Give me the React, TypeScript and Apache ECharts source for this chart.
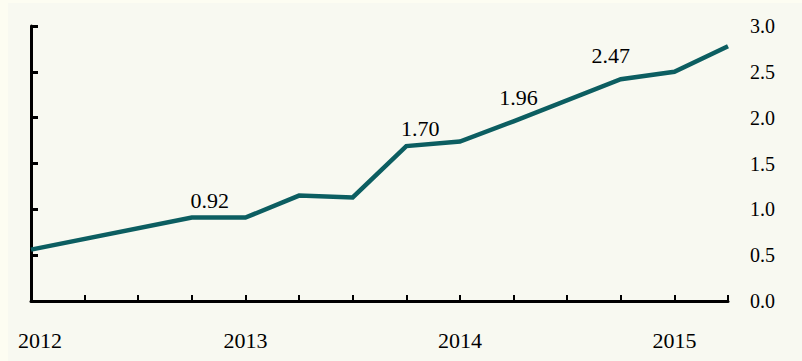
import React, { useEffect, useRef } from "react";
import * as echarts from "echarts";

const categories = [
  "2012Q1", "2012Q2", "2012Q3", "2012Q4",
  "2013Q1", "2013Q2", "2013Q3", "2013Q4",
  "2014Q1", "2014Q2", "2014Q3", "2014Q4",
  "2015Q1", "2015Q2",
];
const yearLabels: Record<string, string> = {
  "2012Q1": "2012",
  "2013Q1": "2013",
  "2014Q1": "2014",
  "2015Q1": "2015",
};
const values: (number | null)[] = [
  0.56, null, null, 0.91, 0.91, 1.15, 1.13, 1.69, 1.74, 1.96, null, 2.42, 2.5, 2.78,
];
const annotationIndex = [3, 7, 9, 11];
const annotationTexts = ["0.92", "1.70", "1.96", "2.47"];
const annotationOffsets: [number, number][] = [
  [18, -17],
  [14, -18],
  [5, -24],
  [-10, -24],
];

const FONT = "Liberation Serif";
const LINE_COLOR = "#0c5e61";

export default function App() {
  const ref = useRef<HTMLDivElement>(null);
  useEffect(() => {
    document.body.style.margin = "0";
    const chart = echarts.init(ref.current!, null, { renderer: "svg" });
    const data = values.map((v, i) => {
      const k = annotationIndex.indexOf(i);
      if (k < 0 || v === null) return v;
      return {
        value: v,
        label: {
          show: true,
          position: "inside",
          offset: annotationOffsets[k],
          formatter: annotationTexts[k],
          color: "#000",
          fontFamily: FONT,
          fontSize: 22,
        },
      };
    });
    chart.setOption({
      animation: false,
      backgroundColor: "#f8f9f1",
      textStyle: { fontFamily: FONT },
      grid: { left: 23, right: 74, top: 23, bottom: 60 },
      xAxis: {
        type: "category",
        data: categories.map((c, i) =>
          i === 0 ? { value: c, textStyle: { padding: [0, 0, 0, 18] } } : c
        ),
        boundaryGap: false,
        axisLine: { lineStyle: { color: "#000", width: 3 } },
        axisTick: { show: true, inside: true, length: 6, interval: 0, lineStyle: { color: "#000", width: 2 } },
        axisLabel: {
          interval: 0,
          margin: 28,
          color: "#000",
          fontFamily: FONT,
          fontSize: 22,
          formatter: (v: string) => yearLabels[v] || "",
        },
        splitLine: { show: false },
      },
      yAxis: [
        {
          type: "value",
          min: 0,
          max: 3,
          interval: 0.5,
          position: "left",
          axisLine: { show: true, lineStyle: { color: "#000", width: 3 } },
          axisTick: { show: true, inside: true, length: 7, lineStyle: { color: "#000", width: 3 } },
          axisLabel: { show: false },
          splitLine: { show: false },
        },
        {
          type: "value",
          min: 0,
          max: 3,
          interval: 0.5,
          position: "right",
          axisLine: { show: false },
          axisTick: { show: false },
          axisLabel: {
            show: true,
            margin: 22,
            color: "#000",
            fontFamily: FONT,
            fontSize: 20,
            formatter: (v: number) => v.toFixed(1),
          },
          splitLine: { show: false },
        },
      ],
      series: [
        {
          type: "line",
          yAxisIndex: 0,
          data,
          connectNulls: true,
          showSymbol: true,
          symbol: "circle",
          symbolSize: 0,
          lineStyle: { color: LINE_COLOR, width: 4.5, join: "miter" },
          itemStyle: { color: LINE_COLOR },
          label: { show: false },
        },
      ],
    });
    return () => chart.dispose();
  }, []);
  return (
    <div style={{ width: 802, height: 361, background: "#fdfdf2", overflow: "hidden" }}>
      <div ref={ref} style={{ marginLeft: 8, position: "relative", top: 3, width: 794, height: 358 }} />
    </div>
  );
}
